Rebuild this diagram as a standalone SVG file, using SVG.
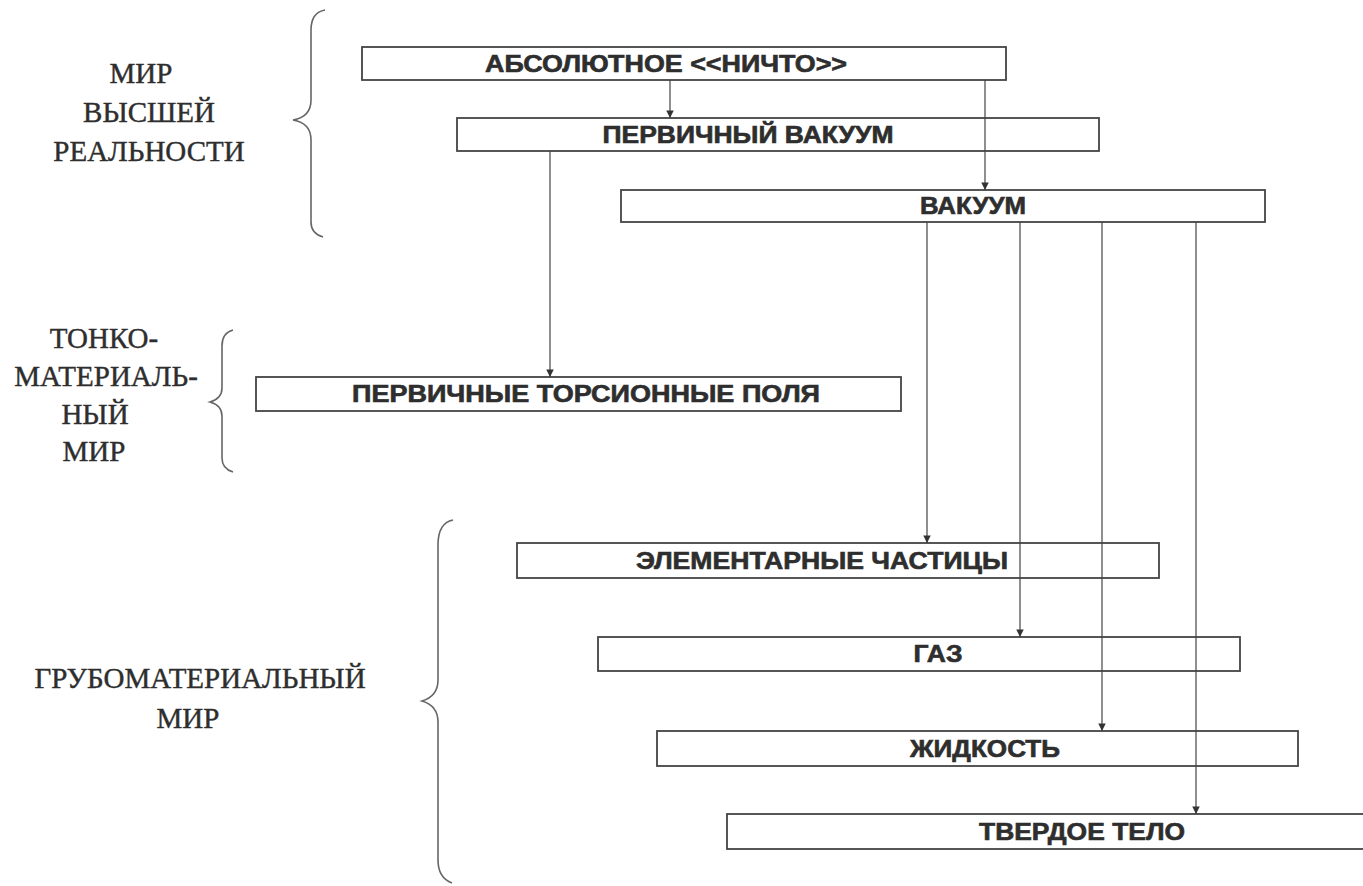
<svg xmlns="http://www.w3.org/2000/svg" width="1363" height="886" viewBox="0 0 1363 886">
<style>
.box{fill:#fff;stroke:#444;stroke-width:1.8}
.bt{font-family:"Liberation Sans",Arial,sans-serif;font-weight:bold;font-size:23px;fill:#2e2e2e;stroke:#2e2e2e;stroke-width:0.6;text-anchor:middle}
.lb{font-family:"Liberation Serif","DejaVu Serif","Times New Roman",serif;font-size:29px;fill:#2e2e2e;stroke:#2e2e2e;stroke-width:0.4;text-anchor:middle}
.br{fill:none;stroke:#666;stroke-width:1.6}
.ar{stroke:#444;stroke-width:1.2;fill:none}
</style>
<defs>
<marker id="ah" viewBox="0 0 10 12" refX="10" refY="6" markerWidth="12" markerHeight="9" markerUnits="userSpaceOnUse" orient="auto">
<path d="M0,1 L10,6 L0,11 Z" fill="#333"/>
</marker>
</defs>
<rect width="1363" height="886" fill="#fff"/>
<g id="labels">
<g id="label-higher">
<text class="lb" x="141" y="83">МИР</text>
<text class="lb" x="149" y="122">ВЫСШЕЙ</text>
<text class="lb" x="149" y="161">РЕАЛЬНОСТИ</text>
<path class="br" d="M325,10 C314,12 311,20 311,30 L311,100 C311,112 305,118 293,120 C305,122 311,128 311,140 L311,222 C311,230 316,235 323,237"/>
</g>
<g id="label-subtle">
<text class="lb" x="104" y="348">ТОНКО-</text>
<text class="lb" x="106" y="386">МАТЕРИАЛЬ-</text>
<text class="lb" x="95" y="424">НЫЙ</text>
<text class="lb" x="94" y="461">МИР</text>
<path class="br" d="M233,330 C225,332 222,338 222,346 L222,388 C222,396 217,400 210,402 C217,404 222,408 222,416 L222,458 C222,466 226,470 233,472"/>
</g>
<g id="label-gross">
<text class="lb" x="200" y="688">ГРУБОМАТЕРИАЛЬНЫЙ</text>
<text class="lb" x="188" y="728">МИР</text>
<path class="br" d="M453,520 C443,522 438,530 438,545 L438,680 C438,692 432,698 422,701 C432,704 438,710 438,722 L438,860 C438,873 444,880 452,883"/>
</g>
</g>
<g id="n1"><rect class="box" x="362" y="47" width="644" height="33"/><text class="bt" x="666" y="72" textLength="362" lengthAdjust="spacingAndGlyphs">АБСОЛЮТНОЕ &lt;&lt;НИЧТО&gt;&gt;</text></g>
<g id="n2"><rect class="box" x="457" y="118" width="642" height="33"/><text class="bt" x="748" y="143" textLength="291" lengthAdjust="spacingAndGlyphs">ПЕРВИЧНЫЙ ВАКУУМ</text></g>
<g id="n3"><rect class="box" x="621" y="190" width="644" height="32"/><text class="bt" x="973" y="214" textLength="106" lengthAdjust="spacingAndGlyphs">ВАКУУМ</text></g>
<g id="n4"><rect class="box" x="256" y="377" width="645" height="34"/><text class="bt" x="586" y="402" textLength="468" lengthAdjust="spacingAndGlyphs">ПЕРВИЧНЫЕ ТОРСИОННЫЕ ПОЛЯ</text></g>
<g id="n5"><rect class="box" x="517" y="543" width="642" height="35"/><text class="bt" x="822" y="569" textLength="372" lengthAdjust="spacingAndGlyphs">ЭЛЕМЕНТАРНЫЕ ЧАСТИЦЫ</text></g>
<g id="n6"><rect class="box" x="598" y="637" width="642" height="34"/><text class="bt" x="938" y="662" textLength="49" lengthAdjust="spacingAndGlyphs">ГАЗ</text></g>
<g id="n7"><rect class="box" x="657" y="731" width="641" height="35"/><text class="bt" x="985" y="757" textLength="150" lengthAdjust="spacingAndGlyphs">ЖИДКОСТЬ</text></g>
<g id="n8"><rect class="box" x="727" y="814" width="642" height="35"/><text class="bt" x="1082" y="840" textLength="206" lengthAdjust="spacingAndGlyphs">ТВЕРДОЕ ТЕЛО</text></g>
<g id="connectors">
<line class="ar" x1="670" y1="80" x2="670" y2="118" marker-end="url(#ah)"/>
<line class="ar" x1="985" y1="80" x2="985" y2="190" marker-end="url(#ah)"/>
<line class="ar" x1="550" y1="151" x2="550" y2="377" marker-end="url(#ah)"/>
<line class="ar" x1="927" y1="222" x2="927" y2="543" marker-end="url(#ah)"/>
<line class="ar" x1="1020" y1="222" x2="1020" y2="637" marker-end="url(#ah)"/>
<line class="ar" x1="1102" y1="222" x2="1102" y2="731" marker-end="url(#ah)"/>
<line class="ar" x1="1196" y1="222" x2="1196" y2="814" marker-end="url(#ah)"/>
</g>
</svg>
